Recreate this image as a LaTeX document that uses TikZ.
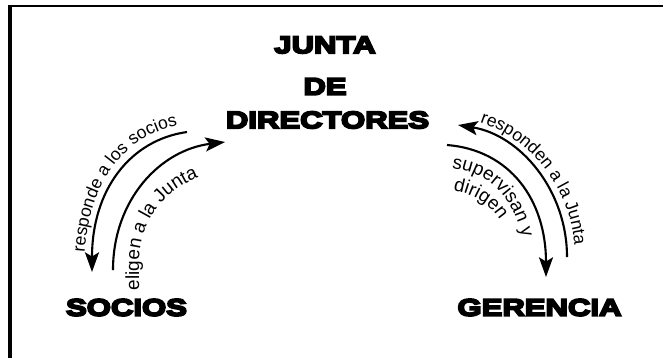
\documentclass[tikz,border=0pt]{standalone}
\usepackage{fontspec}
\setmainfont{Liberation Sans}
\newfontfamily\heavyfont{Liberation Sans}[FakeStretch=1.3, FakeBold=8, BoldFeatures={FakeBold=8}]
\usepackage{tikz}
\usetikzlibrary{positioning, arrows.meta, decorations.text}

\newcommand\outfont{\fontsize{12.5}{14}\selectfont}
\newcommand\infont{\fontsize{13.5}{15}\selectfont}

\tikzset{
    mainlbl/.style={font=\heavyfont\bfseries\fontsize{17}{17}\selectfont, inner sep=0pt},
    arr/.style={line width=1.5pt, -{Stealth[length=14pt, width=10pt, inset=3pt]}},
    rarr/.style={line width=1.5pt, {Stealth[length=14pt, width=10pt, inset=3pt]}-},
    arclbl/.style n args={3}{decoration={text along path, text={|#1|#2}, text align={left indent=#3}}, decorate}
}

\begin{document}
\begin{tikzpicture}[x=0.025cm, y=-0.025cm]
    \useasboundingbox (0,0) rectangle (663,358);

    % Frame
    \draw[line width=2pt] (9,6) -- (663,6);
    \draw[line width=2.8pt] (10,5) -- (10,358);

    % Nodes
    \node[mainlbl] (junta) at (325,45) {JUNTA};
    \node[mainlbl] (de) at (325,86.5) {DE};
    \node[mainlbl] (dir) at (327.5,120) {DIRECTORES};
    \node[mainlbl] (socios) at (126.5,307.5) {SOCIOS};
    \node[mainlbl] (ger) at (539.5,307.5) {GERENCIA};

    % Arrow ends
    \coordinate (la1) at (92,272);
    \coordinate (la2) at (187,132);
    \coordinate (lb1) at (113,270);
    \coordinate (lb2) at (225,142);
    \coordinate (ra1) at (458,125);
    \coordinate (ra2) at (567,257);
    \coordinate (rb1) at (447,145);
    \coordinate (rb2) at (546,277);

    % Connections
    \draw[rarr] (la1) .. controls (92,190) and (130,140) .. (la2);
    \draw[arr] (lb1) .. controls (113,200) and (160,150) .. (lb2);
    \draw[rarr] (ra1) .. controls (520,135) and (567,190) .. (ra2);
    \draw[arr] (rb1) .. controls (510,150) and (546,200) .. (rb2);

    % Labels along arcs (baselines)
    \path[arclbl={\outfont}{responde a los socios}{14pt}] (84,272) .. controls (84,184) and (124,132) .. (187,124) -- (205,123);
    \path[arclbl={\infont}{eligen a la Junta}{0pt}] (139,290) -- (139,265) .. controls (139,215) and (170,180) .. (225,170);
    \path[arclbl={\outfont}{responden a la Junta}{16pt}] (458,117) .. controls (525,127) and (575,188) .. (575,257) -- (575,280);
    \path[arclbl={\infont}{supervisan y}{2pt}] (449,168) .. controls (497,172) and (526,210) .. (526,277);
    \path[arclbl={\infont}{dirigen}{3pt}] (449,190) .. controls (482,194) and (507,215) .. (512,255);
\end{tikzpicture}
\end{document}
